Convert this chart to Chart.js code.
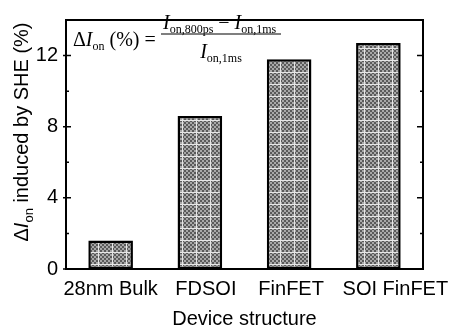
<!DOCTYPE html>
<html>
<head>
<meta charset="utf-8">
<script src="https://cdn.jsdelivr.net/npm/chart.js@4"></script>
<style>
  body { margin: 0; background: #fff; }
  canvas { display: block; }
</style>
</head>
<body>
<canvas id="myChart" width="451" height="335"></canvas>
<script>
const categories = ["28nm Bulk", "FDSOI", "FinFET", "SOI FinFET"];
const deltaIon = [1.6, 8.6, 11.8, 12.7];
const yTicks = [0, 4, 8, 12];
const yMinorTicks = [2, 6, 10];
const yMax = 14;

const SANS = "'Liberation Sans', Arial, sans-serif";
const SERIF = "'Liberation Serif', 'Times New Roman', serif";

// gray dithered fill with light grid lines, like the original hatch
function makePattern() {
  const c = document.createElement("canvas");
  c.width = 14;
  c.height = 12;
  const g = c.getContext("2d");
  for (let y = 0; y < c.height; y += 2) {
    for (let x = 0; x < c.width; x += 2) {
      g.fillStyle = ((x + y) / 2) % 2 === 0 ? "#5a5a5a" : "#a8a8a8";
      g.fillRect(x, y, 2, 2);
    }
  }
  g.fillStyle = "#e6e6e6";
  g.fillRect(0, 0, c.width, 1);
  g.fillRect(0, 0, 1, c.height);
  return g.createPattern(c, "repeat");
}

// draw a list of text runs one after the other, returns end x
function drawRuns(ctx, x, y, runs, measureOnly) {
  let cx = x;
  runs.forEach((r) => {
    ctx.font = r.font;
    if (!measureOnly) ctx.fillText(r.text, cx, y + (r.dy || 0));
    cx += ctx.measureText(r.text).width;
  });
  return cx;
}

const sub = (t) => ({ text: t, font: "12px " + SERIF, dy: 4 });
const it = (t) => ({ text: t, font: "italic 20px " + SERIF });
const rm = (t) => ({ text: t, font: "20px " + SERIF });

const decorations = {
  id: "decorations",
  afterDraw(chart) {
    const ctx = chart.ctx;
    const a = chart.chartArea;
    const y = chart.scales.y;
    const x = chart.scales.x;
    ctx.save();
    ctx.strokeStyle = "#000";
    ctx.fillStyle = "#000";

    // frame
    ctx.lineWidth = 2;
    ctx.strokeRect(a.left, a.top, a.right - a.left, a.bottom - a.top);

    // ticks left/right
    ctx.lineWidth = 1.5;
    ctx.beginPath();
    yTicks.forEach((v) => {
      const py = y.getPixelForValue(v);
      ctx.moveTo(a.left - 3, py);
      ctx.lineTo(a.left + 5, py);
      ctx.moveTo(a.right - 6, py);
      ctx.lineTo(a.right, py);
    });
    yMinorTicks.forEach((v) => {
      const py = y.getPixelForValue(v);
      ctx.moveTo(a.left, py);
      ctx.lineTo(a.left + 3, py);
      ctx.moveTo(a.right - 3, py);
      ctx.lineTo(a.right, py);
    });
    ctx.stroke();

    // category labels
    const nudge = [0, 6, 2, 17];
    ctx.font = "20px " + SANS;
    ctx.textAlign = "center";
    ctx.textBaseline = "alphabetic";
    categories.forEach((c, i) => {
      ctx.fillText(c, x.getPixelForValue(i) + nudge[i], 295);
    });

    // x title
    ctx.fillText("Device structure", (a.left + a.right) / 2, 325);

    // y title, rotated
    ctx.textAlign = "left";
    const yRuns = [
      { text: "\u0394", font: "20px " + SANS },
      { text: "I", font: "italic 20px " + SANS },
      { text: "on", font: "13px " + SANS, dy: 5 },
      { text: " induced by SHE (%)", font: "20px " + SANS },
    ];
    const w = drawRuns(ctx, 0, 0, yRuns, true);
    ctx.save();
    ctx.translate(28, 132);
    ctx.rotate(-Math.PI / 2);
    drawRuns(ctx, -w / 2, 0, yRuns);
    ctx.restore();

    // formula in upper left
    drawRuns(ctx, 73, 46, [rm("\u0394"), it("I"), sub("on"), rm(" (%) = ")]);
    drawRuns(ctx, 163, 29, [it("I"), sub("on,800ps"), rm(" \u2212 "), it("I"), sub("on,1ms")]);
    ctx.lineWidth = 1.2;
    ctx.beginPath();
    ctx.moveTo(161, 34);
    ctx.lineTo(281, 34);
    ctx.stroke();
    const den = [it("I"), sub("on,1ms")];
    const dw = drawRuns(ctx, 0, 0, den, true);
    drawRuns(ctx, 221 - dw / 2, 58, den);

    ctx.restore();
  },
};

new Chart("myChart", {
  type: "bar",
  data: {
    labels: categories,
    datasets: [
      {
        data: deltaIon,
        backgroundColor: makePattern(),
        borderColor: "#000",
        borderWidth: 2.5,
        borderSkipped: false,
        barPercentage: 0.5,
        categoryPercentage: 1,
      },
    ],
  },
  options: {
    responsive: false,
    animation: false,
    events: [],
    layout: { padding: { top: 5, right: 28, left: 0, bottom: 0 } },
    plugins: { legend: { display: false }, tooltip: { enabled: false } },
    scales: {
      x: {
        grid: { display: false, drawTicks: false },
        border: { display: false },
        ticks: { display: false },
        afterFit: (s) => { s.height = 66; },
      },
      y: {
        min: 0,
        max: yMax,
        grid: { display: false, drawTicks: false },
        border: { display: false },
        ticks: {
          color: "#000",
          padding: 8,
          font: { family: SANS, size: 20 },
        },
        afterBuildTicks: (s) => { s.ticks = yTicks.map((v) => ({ value: v })); },
        afterFit: (s) => { s.width = 66; },
      },
    },
  },
  plugins: [decorations],
});
</script>
</body>
</html>
